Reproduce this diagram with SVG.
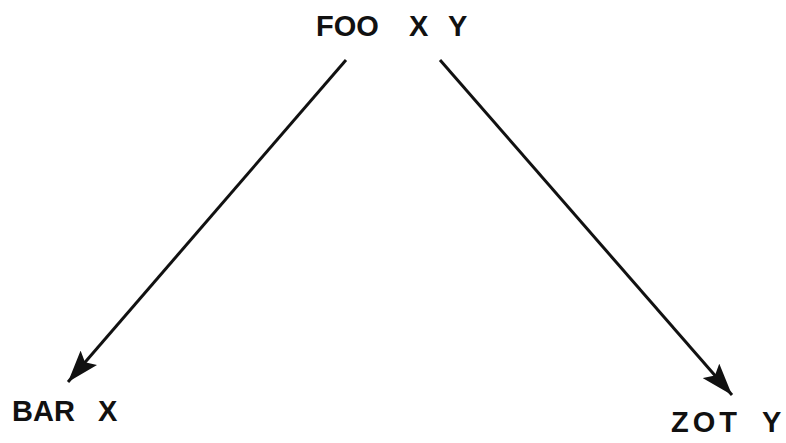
<svg xmlns="http://www.w3.org/2000/svg" width="786" height="443" viewBox="0 0 786 443">
<defs>
<style>
.lbl{font-family:"Liberation Sans",Arial,sans-serif;font-weight:bold;font-size:29px;fill:#111}
.edge{stroke:#111;stroke-width:3;fill:none}
</style>
<marker id="ah" viewBox="0 0 32 22" refX="32" refY="11" markerWidth="32" markerHeight="22" markerUnits="userSpaceOnUse" orient="auto">
<path d="M0,0 L32,11 L0,22 L6,11 Z" fill="#111"/>
</marker>
</defs>
<rect width="786" height="443" fill="#fff"/>
<g id="connectors">
<line class="edge" x1="346" y1="60" x2="68" y2="382" marker-end="url(#ah)"/>
<line class="edge" x1="440" y1="60" x2="732" y2="395" marker-end="url(#ah)"/>
</g>
<g id="foo"><text class="lbl" y="36"><tspan x="316">FOO</tspan><tspan x="409">X</tspan><tspan x="448">Y</tspan></text></g>
<g id="bar"><text class="lbl" y="421"><tspan x="12">BAR</tspan><tspan x="98">X</tspan></text></g>
<g id="zot"><text class="lbl" y="432"><tspan x="671" letter-spacing="4">ZOT</tspan><tspan x="762">Y</tspan></text></g>
</svg>
